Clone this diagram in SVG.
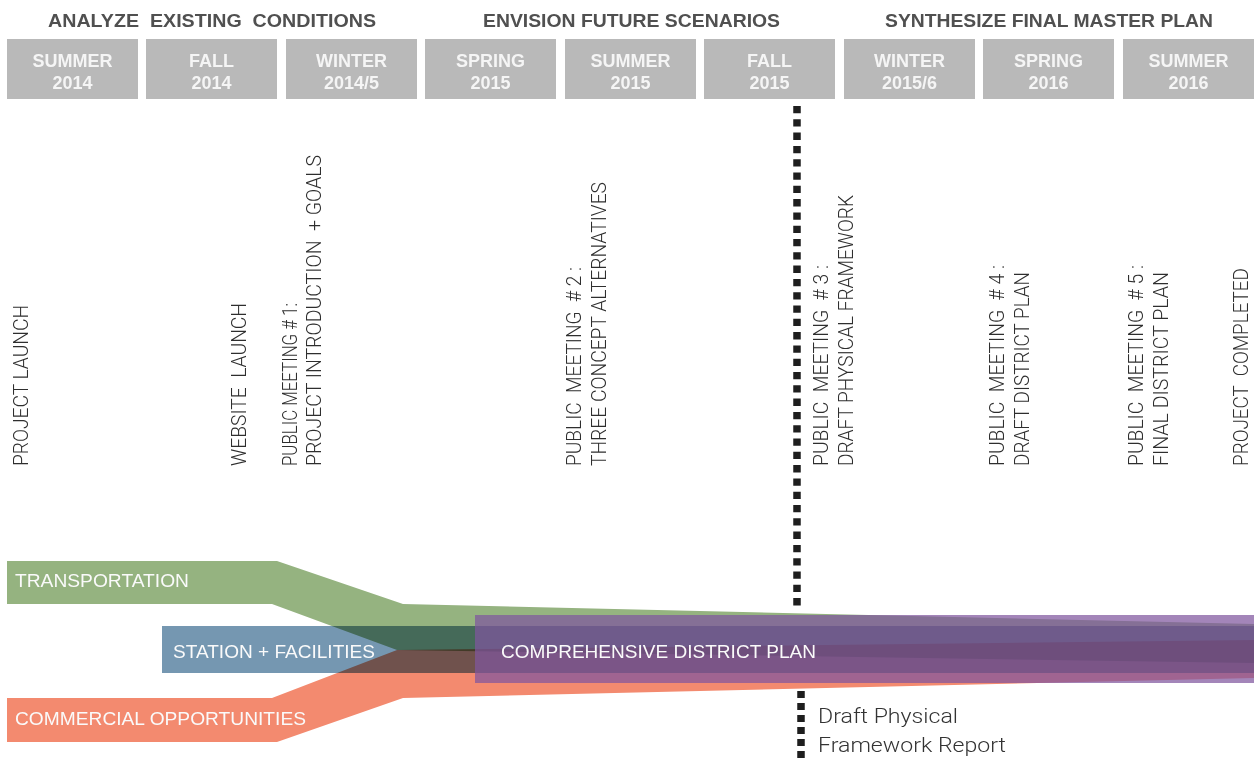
<svg xmlns="http://www.w3.org/2000/svg" width="1254" height="758" viewBox="0 0 1254 758">
<style>
.phase{font-family:"Liberation Sans",Arial,sans-serif;font-weight:bold;font-size:18px;fill:#505050;text-anchor:middle;white-space:pre}
.box{fill:#b9b9b9}
.boxt{font-family:"Liberation Sans",Arial,sans-serif;font-weight:bold;font-size:18px;fill:#f5f5f5;text-anchor:middle}
.vl{font-family:Roboto,"Liberation Sans",sans-serif;font-weight:300;font-size:21px;fill:#2e2e2e;white-space:pre}
.band{mix-blend-mode:multiply}
.bt{font-family:"Liberation Sans",Arial,sans-serif;font-size:18px;fill:#fafafa}
.note{font-family:Roboto,"Liberation Sans",sans-serif;font-weight:300;font-size:21px;fill:#333333}
.dash{stroke:#1e1e1e;stroke-width:7.5;fill:none}
</style>
<rect width="1254" height="758" fill="#ffffff"/>

<g id="phases">
<text class="phase" x="212" y="27" textLength="328" lengthAdjust="spacingAndGlyphs" xml:space="preserve">ANALYZE  EXISTING  CONDITIONS</text>
<text class="phase" x="631.5" y="27" textLength="297" lengthAdjust="spacingAndGlyphs">ENVISION FUTURE SCENARIOS</text>
<text class="phase" x="1049" y="27" textLength="328" lengthAdjust="spacingAndGlyphs">SYNTHESIZE FINAL MASTER PLAN</text>
</g>

<g id="season-summer-2014"><rect class="box" x="7" y="39" width="131" height="60"/><text class="boxt" x="72.5" y="67">SUMMER</text><text class="boxt" x="72.5" y="89">2014</text></g>
<g id="season-fall-2014"><rect class="box" x="146" y="39" width="131" height="60"/><text class="boxt" x="211.5" y="67">FALL</text><text class="boxt" x="211.5" y="89">2014</text></g>
<g id="season-winter-2014"><rect class="box" x="286" y="39" width="131" height="60"/><text class="boxt" x="351.5" y="67">WINTER</text><text class="boxt" x="351.5" y="89">2014/5</text></g>
<g id="season-spring-2015"><rect class="box" x="425" y="39" width="131" height="60"/><text class="boxt" x="490.5" y="67">SPRING</text><text class="boxt" x="490.5" y="89">2015</text></g>
<g id="season-summer-2015"><rect class="box" x="565" y="39" width="131" height="60"/><text class="boxt" x="630.5" y="67">SUMMER</text><text class="boxt" x="630.5" y="89">2015</text></g>
<g id="season-fall-2015"><rect class="box" x="704" y="39" width="131" height="60"/><text class="boxt" x="769.5" y="67">FALL</text><text class="boxt" x="769.5" y="89">2015</text></g>
<g id="season-winter-2015"><rect class="box" x="844" y="39" width="131" height="60"/><text class="boxt" x="909.5" y="67">WINTER</text><text class="boxt" x="909.5" y="89">2015/6</text></g>
<g id="season-spring-2016"><rect class="box" x="983" y="39" width="131" height="60"/><text class="boxt" x="1048.5" y="67">SPRING</text><text class="boxt" x="1048.5" y="89">2016</text></g>
<g id="season-summer-2016"><rect class="box" x="1123" y="39" width="131" height="60"/><text class="boxt" x="1188.5" y="67">SUMMER</text><text class="boxt" x="1188.5" y="89">2016</text></g>

<g id="milestone-project-launch" transform="translate(28,466) rotate(-90)">
<text class="vl" x="0" y="0" textLength="161" lengthAdjust="spacingAndGlyphs">PROJECT LAUNCH</text></g>
<g id="milestone-website-launch" transform="translate(246,466) rotate(-90)">
<text class="vl" x="0" y="0" textLength="163" lengthAdjust="spacingAndGlyphs" xml:space="preserve">WEBSITE  LAUNCH</text></g>
<g id="milestone-meeting-1" transform="translate(297,466) rotate(-90)">
<text class="vl" x="0" y="0" textLength="163" lengthAdjust="spacingAndGlyphs">PUBLIC MEETING # 1:</text>
<text class="vl" x="0" y="24" textLength="311" lengthAdjust="spacingAndGlyphs" xml:space="preserve">PROJECT INTRODUCTION  + GOALS</text></g>
<g id="milestone-meeting-2" transform="translate(581,466) rotate(-90)">
<text class="vl" x="0" y="0" textLength="199" lengthAdjust="spacingAndGlyphs" xml:space="preserve">PUBLIC  MEETING  # 2 :</text>
<text class="vl" x="0" y="25" textLength="284" lengthAdjust="spacingAndGlyphs">THREE CONCEPT ALTERNATIVES</text></g>
<g id="milestone-meeting-3" transform="translate(828,466) rotate(-90)">
<text class="vl" x="0" y="0" textLength="201" lengthAdjust="spacingAndGlyphs" xml:space="preserve">PUBLIC  MEETING  # 3 :</text>
<text class="vl" x="0" y="25" textLength="271" lengthAdjust="spacingAndGlyphs">DRAFT PHYSICAL FRAMEWORK</text></g>
<g id="milestone-meeting-4" transform="translate(1004,466) rotate(-90)">
<text class="vl" x="0" y="0" textLength="201" lengthAdjust="spacingAndGlyphs" xml:space="preserve">PUBLIC  MEETING  # 4 :</text>
<text class="vl" x="0" y="25" textLength="194" lengthAdjust="spacingAndGlyphs">DRAFT DISTRICT PLAN</text></g>
<g id="milestone-meeting-5" transform="translate(1143,466) rotate(-90)">
<text class="vl" x="0" y="0" textLength="201" lengthAdjust="spacingAndGlyphs" xml:space="preserve">PUBLIC  MEETING  # 5 :</text>
<text class="vl" x="0" y="25" textLength="194" lengthAdjust="spacingAndGlyphs">FINAL DISTRICT PLAN</text></g>
<g id="milestone-project-completed" transform="translate(1248,466) rotate(-90)">
<text class="vl" x="0" y="0" textLength="198" lengthAdjust="spacingAndGlyphs" xml:space="preserve">PROJECT  COMPLETED</text></g>

<g id="connectors">
<line class="dash" x1="797" y1="106" x2="797" y2="609" stroke-dasharray="7.3 6"/>
<line class="dash" x1="801" y1="691" x2="801" y2="758" stroke-dasharray="7 5"/>
</g>

<g id="band-transportation">
<polygon class="band" fill="#95b380" points="7,561 277,561 403,604 1254,624 1254,663 397,650 272,604 7,604"/>
</g>
<g id="band-station">
<rect class="band" fill="#7597b1" x="162" y="626" width="1092" height="47"/>
</g>
<g id="band-commercial">
<polygon class="band" fill="#f38a6f" points="7,698 272,698 397,650 1254,640 1254,678 403,698 277,742 7,742"/>
</g>
<g id="band-comprehensive">
<rect fill="#80569e" fill-opacity="0.72" x="475" y="615" width="779" height="68"/>
</g>

<g id="band-labels">
<text class="bt" x="15" y="587" textLength="174" lengthAdjust="spacingAndGlyphs">TRANSPORTATION</text>
<text class="bt" x="173" y="658" textLength="202" lengthAdjust="spacingAndGlyphs">STATION + FACILITIES</text>
<text class="bt" x="15" y="725" textLength="291" lengthAdjust="spacingAndGlyphs">COMMERCIAL OPPORTUNITIES</text>
<text class="bt" x="501" y="658" textLength="315" lengthAdjust="spacingAndGlyphs">COMPREHENSIVE DISTRICT PLAN</text>
</g>

<g id="note-report">
<text class="note" x="818" y="723" textLength="140" lengthAdjust="spacingAndGlyphs">Draft Physical</text>
<text class="note" x="818" y="752" textLength="188" lengthAdjust="spacingAndGlyphs">Framework Report</text>
</g>
</svg>
